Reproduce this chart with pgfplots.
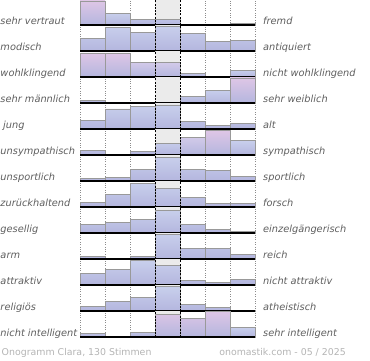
\documentclass[border=0pt]{standalone}
\usepackage{pgfplots}
\pgfplotsset{compat=1.18}
\usepackage{fontspec}
\setmainfont{DejaVu Sans}
\definecolor{lbl}{HTML}{5E5E5E}
\definecolor{foot}{HTML}{B4B4B4}
\definecolor{bgcol}{HTML}{EBEBEB}
\definecolor{btop}{HTML}{C8CFEC}
\definecolor{bbot}{HTML}{B4B6DE}
\definecolor{ptop}{HTML}{DEC6E6}
\definecolor{mtop}{HTML}{D2CAE9}
\pgfplotsset{
 onorow/.style={
  anchor=south west, scale only axis, width=175pt, height=26pt,
  xmin=0, xmax=7, ymin=0, ymax=26, clip=false,
  axis line style={draw=none}, ytick=\empty,
  xtick={0,1,2,5,6,7}, xticklabels={}, major tick length=0pt,
  xmajorgrids, grid style={black!45, dotted, line width=0.5pt},
  ybar, bar width=1, bar shift=0pt,
 },
 bgbar/.style={fill=bgcol, draw=none},
 bluebar/.style={draw=black!40, line width=0.5pt, top color=btop, bottom color=bbot},
 pinkbar/.style={draw=black!40, line width=0.5pt, top color=ptop, bottom color=bbot},
 mildbar/.style={draw=black!40, line width=0.5pt, top color=mtop, bottom color=bbot},
}
\newcommand{\rowlines}{%
 \draw[black, line width=0.75pt, dash pattern=on 2pt off 1.25pt] (axis cs:3,0) -- (axis cs:3,26);
 \draw[black, line width=0.75pt, dash pattern=on 2pt off 1.25pt] (axis cs:4,0) -- (axis cs:4,26);
 \draw[black, line width=1.2pt] (axis cs:0,0) -- (axis cs:7,0);
}
\newcommand{\lbls}[4][0.3]{%
 \node[anchor=base west, inner sep=0pt, text=lbl, font=\fontsize{9.8pt}{11pt}\selectfont\itshape] at (#1pt,#2pt+1pt) {#3};
 \node[anchor=base west, inner sep=0pt, text=lbl, font=\fontsize{9.8pt}{11pt}\selectfont\itshape] at (263pt,#2pt+1pt) {#4};
}
\begin{document}
\begin{tikzpicture}[x=1pt,y=1pt]
\path[use as bounding box] (0,0) rectangle (370,360);
% row 1
\begin{axis}[onorow, at={(80pt,335pt)}]
\addplot[bgbar] coordinates {(3.5,26)};
\addplot[bluebar] coordinates {(1.5,12) (2.5,5.7) (3.5,6) (6.5,1.3)};
\addplot[pinkbar] coordinates {(0.5,24)};
\rowlines
\end{axis}
\lbls{335}{sehr vertraut}{fremd}
% row 2
\begin{axis}[onorow, at={(80pt,309pt)}]
\addplot[bgbar] coordinates {(3.5,26)};
\addplot[bluebar] coordinates {(0.5,13) (1.5,23.5) (2.5,18.5) (3.5,24.5) (4.5,17.5) (5.5,9.5) (6.5,11)};
\rowlines
\end{axis}
\lbls{309}{modisch}{antiquiert}
% row 3
\begin{axis}[onorow, at={(80pt,283pt)}]
\addplot[bgbar] coordinates {(3.5,26)};
\addplot[bluebar] coordinates {(4.5,3.6) (6.5,7)};
\addplot[mildbar] coordinates {(2.5,14.6) (3.5,14.6)};
\addplot[pinkbar] coordinates {(0.5,24) (1.5,24)};
\rowlines
\end{axis}
\lbls{283}{wohlklingend}{nicht wohlklingend}
% row 4
\begin{axis}[onorow, at={(80pt,257pt)}]
\addplot[bgbar] coordinates {(3.5,26)};
\addplot[bluebar] coordinates {(0.5,2.3) (3.5,0.8) (4.5,7) (5.5,13)};
\addplot[pinkbar] coordinates {(6.5,25)};
\rowlines
\end{axis}
\lbls{257}{sehr männlich}{sehr weiblich}
% row 5
\begin{axis}[onorow, at={(80pt,231pt)}]
\addplot[bgbar] coordinates {(3.5,26)};
\addplot[bluebar] coordinates {(0.5,9) (1.5,20) (2.5,22.6) (3.5,24) (4.5,8) (5.5,3.6) (6.5,5.3)};
\rowlines
\end{axis}
\lbls[3]{231}{jung}{alt}
% row 6
\begin{axis}[onorow, at={(80pt,205pt)}]
\addplot[bgbar] coordinates {(3.5,26)};
\addplot[bluebar] coordinates {(0.5,4.3) (2.5,3.3) (3.5,11.7) (6.5,14.3)};
\addplot[mildbar] coordinates {(4.5,17.7)};
\addplot[pinkbar] coordinates {(5.5,24.3)};
\rowlines
\end{axis}
\lbls{205}{unsympathisch}{sympathisch}
% row 7
\begin{axis}[onorow, at={(80pt,179pt)}]
\addplot[bgbar] coordinates {(3.5,26)};
\addplot[bluebar] coordinates {(0.5,2.7) (1.5,3.7) (2.5,11.7) (3.5,23.7) (4.5,11.7) (5.5,10.3) (6.5,4.3)};
\rowlines
\end{axis}
\lbls{179}{unsportlich}{sportlich}
% row 8
\begin{axis}[onorow, at={(80pt,153pt)}]
\addplot[bgbar] coordinates {(3.5,26)};
\addplot[bluebar] coordinates {(0.5,4.3) (1.5,12.7) (2.5,24) (3.5,19) (4.5,10) (5.5,4) (6.5,4)};
\rowlines
\end{axis}
\lbls{153}{zurückhaltend}{forsch}
% row 9
\begin{axis}[onorow, at={(80pt,127pt)}]
\addplot[bgbar] coordinates {(3.5,26)};
\addplot[bluebar] coordinates {(0.5,8.3) (1.5,10.7) (2.5,14) (3.5,23) (4.5,9) (5.5,3.3) (6.5,1.3)};
\rowlines
\end{axis}
\lbls{127}{gesellig}{einzelgängerisch}
% row 10
\begin{axis}[onorow, at={(80pt,101pt)}]
\addplot[bgbar] coordinates {(3.5,26)};
\addplot[bluebar] coordinates {(0.5,2.3) (2.5,2.3) (3.5,25) (4.5,10.3) (5.5,10.3) (6.5,4.3)};
\rowlines
\end{axis}
\lbls{101}{arm}{reich}
% row 11
\begin{axis}[onorow, at={(80pt,75pt)}]
\addplot[bgbar] coordinates {(3.5,26)};
\addplot[bluebar] coordinates {(0.5,11.7) (1.5,15.7) (2.5,24.3) (3.5,20) (4.5,4.3) (5.5,2.3) (6.5,5.7)};
\rowlines
\end{axis}
\lbls{75}{attraktiv}{nicht attraktiv}
% row 12
\begin{axis}[onorow, at={(80pt,49pt)}]
\addplot[bgbar] coordinates {(3.5,26)};
\addplot[bluebar] coordinates {(0.5,4.3) (1.5,9.7) (2.5,13.7) (3.5,24.3) (4.5,6.7) (5.5,3.7) (6.5,1)};
\rowlines
\end{axis}
\lbls{49}{religiös}{atheistisch}
% row 13
\begin{axis}[onorow, at={(80pt,23pt)}]
\addplot[bgbar] coordinates {(3.5,26)};
\addplot[bluebar] coordinates {(0.5,3.3) (2.5,4.7) (6.5,9.7)};
\addplot[pinkbar] coordinates {(3.5,22.3) (4.5,18.7) (5.5,25.7)};
\rowlines
\end{axis}
\lbls{23}{nicht intelligent}{sehr intelligent}
% footer
\node[anchor=base west, inner sep=0pt, text=foot, font=\fontsize{9.4pt}{11pt}\selectfont] at (1.5pt,5pt) {Onogramm Clara, 130 Stimmen};
\node[anchor=base east, inner sep=0pt, text=foot, font=\fontsize{9.4pt}{11pt}\selectfont] at (346pt,5pt) {onomastik.com - 05 / 2025};
\end{tikzpicture}
\end{document}
